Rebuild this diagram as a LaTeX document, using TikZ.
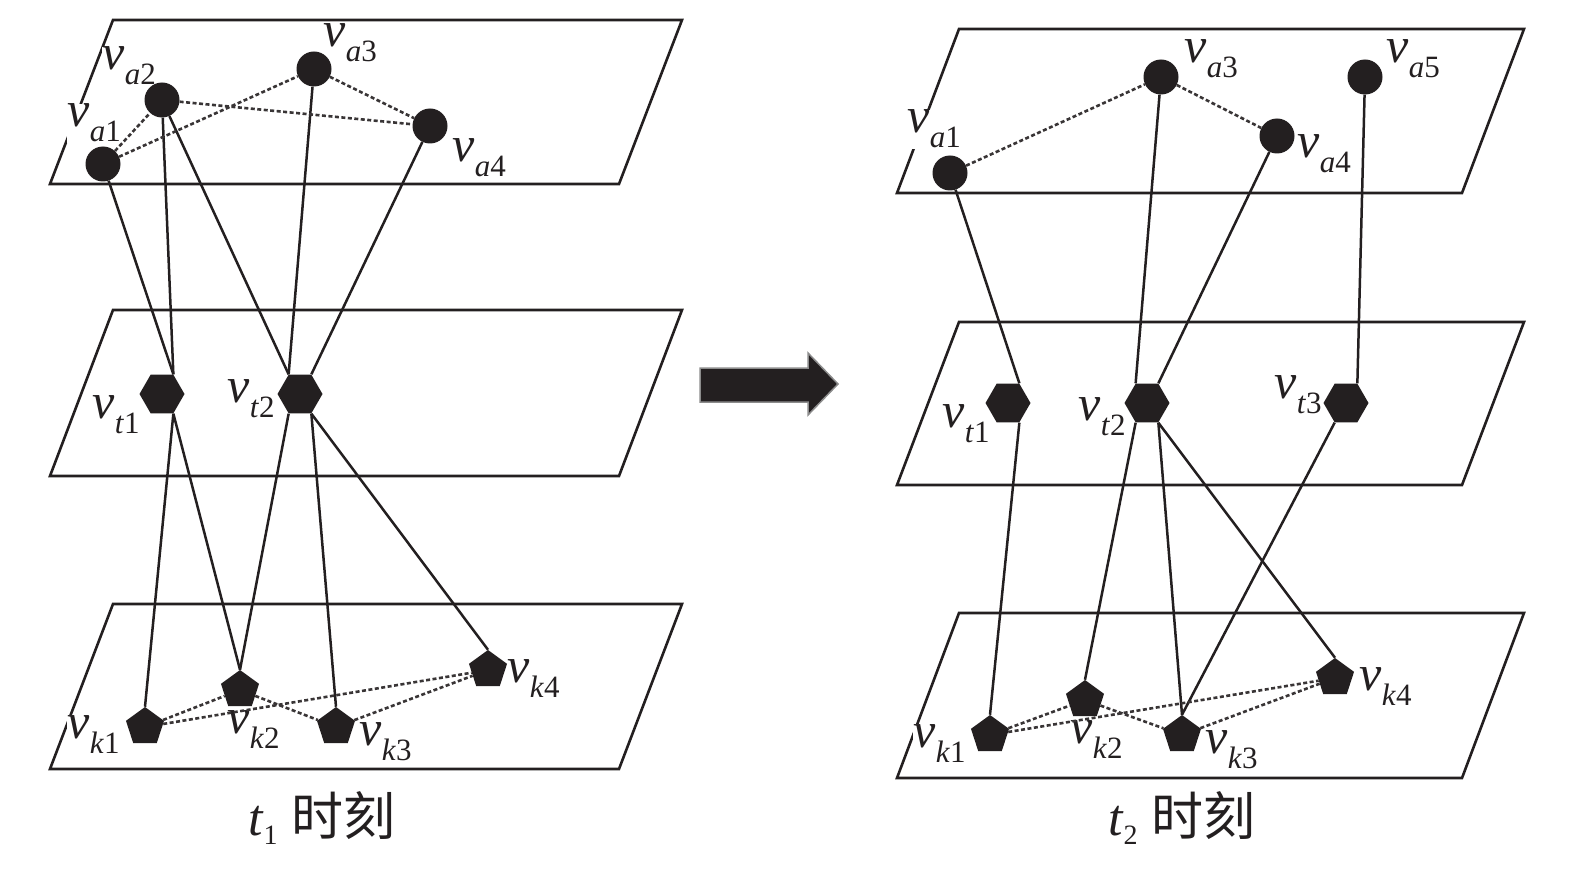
\documentclass[tikz,border=0pt]{standalone}
\usepackage{fontspec}
\setmainfont{Liberation Serif}
\newfontfamily\cjkfont{Noto Sans CJK SC}
\usetikzlibrary{shapes.geometric}
\definecolor{ink}{HTML}{231F20}
\newcommand\vlab[2]{\fontsize{50}{50}\selectfont\textit{v}\raisebox{-15pt}{\fontsize{31}{31}\selectfont\textit{#1}#2}}
\newcommand\tcap[1]{\fontsize{52}{52}\selectfont\textit{t}\raisebox{-9pt}{\fontsize{28}{28}\selectfont #1}\hspace{14pt}{\cjkfont 时刻}}
\begin{document}
\begin{tikzpicture}[x=1pt,y=-1pt,
  plane/.style={draw=ink, line width=2.6pt, line join=miter},
  edge/.style={draw=ink, line width=2.5pt},
  dots/.style={draw=ink!90, line width=2.6pt, dash pattern=on 4pt off 2.5pt},
  anode/.style={circle, fill=ink, inner sep=0pt, minimum size=35pt},
  tnode/.style={regular polygon, regular polygon sides=6, fill=ink, inner sep=0pt, minimum size=45pt},
  knode/.style={regular polygon, regular polygon sides=5, fill=ink, inner sep=0pt, minimum size=40pt},
  lab/.style={fill=white, inner sep=0.5pt, anchor=base west, text=ink},
  captext/.style={inner sep=0pt, anchor=base west, text=ink}]
\useasboundingbox (0,0) rectangle (1575,869);

% planes (left)
\draw[plane] (113,20) -- (682,20) -- (619,184) -- (50,184) -- cycle;
\draw[plane] (113,310) -- (682,310) -- (619,476) -- (50,476) -- cycle;
\draw[plane] (113,604) -- (682,604) -- (619,769) -- (50,769) -- cycle;
% planes (right)
\draw[plane] (959,29) -- (1524,29) -- (1462,193) -- (897,193) -- cycle;
\draw[plane] (959,322) -- (1524,322) -- (1462,485) -- (897,485) -- cycle;
\draw[plane] (959,613) -- (1524,613) -- (1462,778) -- (897,778) -- cycle;

% labels (left)
\node[lab] (la1) at (67,127) {\vlab{a}{1}};
\node[lab] (la2) at (102,70) {\vlab{a}{2}};
\node[lab] (la3) at (323,47) {\vlab{a}{3}};
\node[lab] (la4) at (452,162) {\vlab{a}{4}};
\node[lab] (lt1) at (92,418) {\vlab{t}{1}};
\node[lab] (lt2) at (227,402) {\vlab{t}{2}};
\node[lab] (lk1) at (67,738) {\vlab{k}{1}};
\node[lab] (lk2) at (227,733) {\vlab{k}{2}};
\node[lab] (lk3) at (359,745) {\vlab{k}{3}};
\node[lab] (lk4) at (507,682) {\vlab{k}{4}};
% labels (right)
\node[lab] (ma1) at (907,133) {\vlab{a}{1}};
\node[lab] (ma3) at (1184,63) {\vlab{a}{3}};
\node[lab] (ma4) at (1297,158) {\vlab{a}{4}};
\node[lab] (ma5) at (1386,63) {\vlab{a}{5}};
\node[lab] (mt1) at (942,427) {\vlab{t}{1}};
\node[lab] (mt2) at (1078,420) {\vlab{t}{2}};
\node[lab] (mt3) at (1274,398) {\vlab{t}{3}};
\node[lab] (mk1) at (913,747) {\vlab{k}{1}};
\node[lab] (mk2) at (1070,743) {\vlab{k}{2}};
\node[lab] (mk3) at (1205,753) {\vlab{k}{3}};
\node[lab] (mk4) at (1359,690) {\vlab{k}{4}};

% nodes (left)
\node[anode] (va1) at (103,164) {};
\node[anode] (va2) at (162,100) {};
\node[anode] (va3) at (314,69) {};
\node[anode] (va4) at (430,126) {};
\node[tnode] (vt1) at (162,394) {};
\node[tnode] (vt2) at (300,394) {};
\node[knode] (vk1) at (145,727) {};
\node[knode] (vk2) at (240,690) {};
\node[knode] (vk3) at (336,727) {};
\node[knode] (vk4) at (488,670) {};
% nodes (right)
\node[anode] (ra1) at (950,173) {};
\node[anode] (ra3) at (1161,77) {};
\node[anode] (ra4) at (1277,136) {};
\node[anode] (ra5) at (1365,77) {};
\node[tnode] (rt1) at (1008,403) {};
\node[tnode] (rt2) at (1147,403) {};
\node[tnode] (rt3) at (1346,403) {};
\node[knode] (rk1) at (990,735) {};
\node[knode] (rk2) at (1085,700) {};
\node[knode] (rk3) at (1182,735) {};
\node[knode] (rk4) at (1335,678) {};

% solid edges (left)
\draw[edge] (va1) -- (vt1.60);
\draw[edge] (va2) -- (vt1.60);
\draw[edge] (va2) -- (vt2.120);
\draw[edge] (va3) -- (vt2.120);
\draw[edge] (va4) -- (vt2.60);
\draw[edge] (vt1.-60) -- (vk1.north);
\draw[edge] (vt1.-60) -- (vk2.north);
\draw[edge] (vt2.-120) -- (vk2.north);
\draw[edge] (vt2.-60) -- (vk3.north);
\draw[edge] (vt2.-60) -- (vk4.north);
% dotted edges (left)
\draw[dots] (va1) -- (va2);
\draw[dots] (va1) -- (va3);
\draw[dots] (va2) -- (va4);
\draw[dots] (va3) -- (va4);
\draw[dots] (vk1) -- (vk2);
\draw[dots] (vk1) -- (vk4);
\draw[dots] (vk2) -- (vk3);
\draw[dots] (vk3) -- (vk4);

% solid edges (right)
\draw[edge] (ra1) -- (rt1.60);
\draw[edge] (ra3) -- (rt2.120);
\draw[edge] (ra4) -- (rt2.60);
\draw[edge] (ra5) -- (rt3.60);
\draw[edge] (rt1.-60) -- (rk1.north);
\draw[edge] (rt2.-120) -- (rk2.north);
\draw[edge] (rt2.-60) -- (rk3.north);
\draw[edge] (rt2.-60) -- (rk4.north);
\draw[edge] (rt3.-120) -- (rk3.north);
% dotted edges (right)
\draw[dots] (ra1) -- (ra3);
\draw[dots] (ra3) -- (ra4);
\draw[dots] (rk1) -- (rk2);
\draw[dots] (rk1) -- (rk4);
\draw[dots] (rk2) -- (rk3);
\draw[dots] (rk3) -- (rk4);

% big arrow
\fill[ink, draw=black!45, line width=1.5pt] (700,368) -- (808,368) -- (808,353) -- (838,384) -- (808,415) -- (808,402) -- (700,402) -- cycle;

% captions
\node[captext] (c1) at (248,835) {\tcap{1}};
\node[captext] (c2) at (1108,835) {\tcap{2}};
\end{tikzpicture}
\end{document}
